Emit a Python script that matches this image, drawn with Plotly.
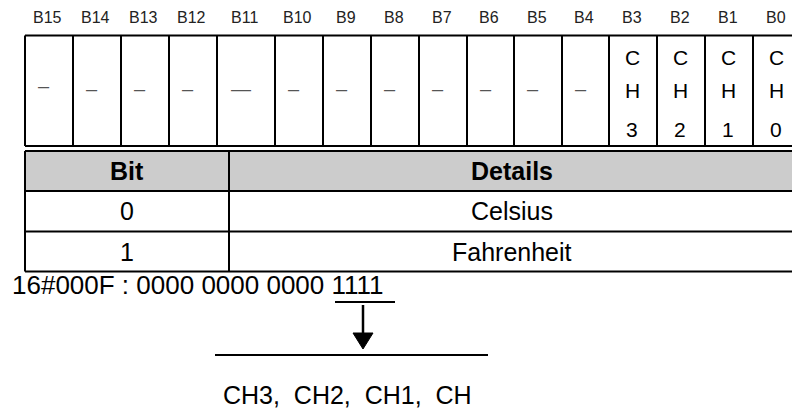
import plotly.graph_objects as go
import numpy as np

# ---------------- data ----------------
bit_labels = ["B15", "B14", "B13", "B12", "B11", "B10", "B9", "B8",
              "B7", "B6", "B5", "B4", "B3", "B2", "B1", "B0"]
register_values = ["–", "–", "–", "–", "—", "–", "–", "–",
                   "–", "–", "–", "–", "CH3", "CH2", "CH1", "CH0"]
table_header = ["Bit", "Details"]
bit_values = ["0", "1"]
detail_values = ["Celsius", "Fahrenheit"]
hex_text = "16#000F : 0000 0000 0000 1111"
channel_text = "CH3,\u00a0 CH2,\u00a0 CH1,\u00a0 CH"

# ---------------- layout geometry (page pixels) ----------------
W, H = 792, 408
col_widths = [48, 48, 48, 48, 58, 48, 48, 48, 48, 47, 48, 47, 48, 48, 48, 48]
reg_left, reg_top, reg_bottom = 25, 35.5, 146
label_y = 17
dash_ys = [86] + [89] * 15
char_ys = [57, 90, 129.5]

tbl_left, tbl_right, tbl_div = 25, 801, 229
row_edges = [151, 191, 231.5, 271.5]

FONT = "Liberation Sans, Arial, sans-serif"
NARROW = "Liberation Sans Narrow, Arial Narrow, Liberation Sans, Arial, sans-serif"
LW = 2

shapes = []
annotations = []


def line(x0, y0, x1, y1, w=LW, color="black"):
    shapes.append(dict(type="line", xref="x", yref="y", x0=x0, y0=y0, x1=x1, y1=y1,
                       line=dict(color=color, width=w)))


def text(x, y, s, size, family=FONT, color="black", xanchor="center", bold=False):
    annotations.append(dict(x=x, y=y, xref="x", yref="y", text=("<b>%s</b>" % s) if bold else s,
                            showarrow=False, xanchor=xanchor, yanchor="middle",
                            font=dict(family=family, size=size, color=color)))


# ---------------- register table ----------------
edges = reg_left + np.concatenate([[0], np.cumsum(col_widths)])
line(edges[0], reg_top, edges[-1], reg_top)
line(edges[0], reg_bottom, edges[-1], reg_bottom)
for e in edges:
    line(e, reg_top, e, reg_bottom)

for i, (lab, val) in enumerate(zip(bit_labels, register_values)):
    cx = (edges[i] + edges[i + 1]) / 2
    text(cx - 1.5, label_y, lab, 16, family=NARROW, color="#222")
    if val.startswith("CH"):
        for ch, yy in zip(val, char_ys):
            text(cx - 1, yy, ch, 21)
    else:
        text(cx - 5, dash_ys[i], val, 20, color="#555")

# ---------------- bit table ----------------
shapes.append(dict(type="rect", xref="x", yref="y", x0=tbl_left, x1=tbl_right,
                   y0=row_edges[0], y1=row_edges[1], fillcolor="#cccccc",
                   line=dict(width=0), layer="below"))
for ry in row_edges:
    line(tbl_left, ry, tbl_right, ry)
line(tbl_left, row_edges[0], tbl_left, row_edges[-1])
line(tbl_div, row_edges[0], tbl_div, row_edges[-1])
line(tbl_right, row_edges[0], tbl_right, row_edges[-1])

c1 = (tbl_left + tbl_div) / 2
c2 = 512
hy = (row_edges[0] + row_edges[1]) / 2
text(c1, hy, table_header[0], 25, bold=True)
text(c2, hy, table_header[1], 25, bold=True)
for i, (b, d) in enumerate(zip(bit_values, detail_values)):
    ry = (row_edges[i + 1] + row_edges[i + 2]) / 2
    text(c1, ry, b, 25)
    text(c2, ry, d, 25)

# ---------------- hex value, arrow, channels ----------------
text(10, 285, hex_text, 26, xanchor="left")
line(335, 302, 395, 302, w=2)
line(363, 305, 363, 336, w=2.5)
shapes.append(dict(type="path", xref="x", yref="y",
                   path="M 353,333 L 373,333 L 363,349 Z",
                   fillcolor="black", line=dict(color="black", width=1)))
line(215, 355, 488, 355, w=2)
text(347.5, 395, channel_text, 25)

fig = go.Figure()
fig.update_layout(
    width=W, height=H,
    margin=dict(l=0, r=0, t=0, b=0, pad=0),
    paper_bgcolor="white", plot_bgcolor="white",
    xaxis=dict(range=[0, W], visible=False, fixedrange=True),
    yaxis=dict(range=[H, 0], visible=False, fixedrange=True),
    shapes=shapes, annotations=annotations, showlegend=False,
    hovermode=False,
)
fig.write_html("out.html",
               config={"displayModeBar": False, "staticPlot": True},
               post_script="document.body.style.margin='0px';document.body.style.overflow='hidden';")
